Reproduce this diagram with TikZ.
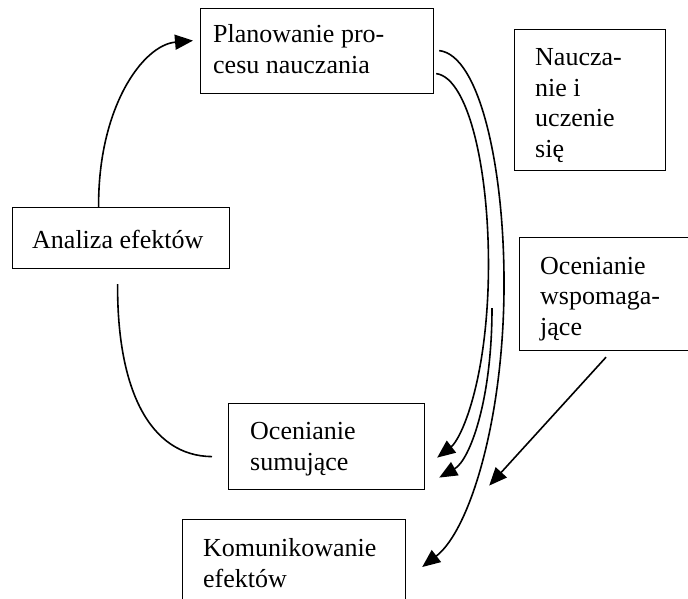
\documentclass[tikz,border=0pt]{standalone}
\usepackage{fontspec}
\setmainfont{Liberation Serif}
\usetikzlibrary{arrows.meta}
\begin{document}
\begin{tikzpicture}[x=1pt,y=-1pt,
  box/.style={draw, line width=1.2pt, anchor=north west, inner sep=0pt},
  txt/.style={anchor=base west, inner sep=0pt, align=left, font=\fontsize{26}{30.5}\selectfont},
  conn/.style={line width=1.6pt},
  arr/.style={conn, -{Triangle[length=18pt,width=15pt]}}]
\useasboundingbox (0,0) rectangle (688,598);
\clip (0,0) rectangle (688,598);
\fill[white] (0,0) rectangle (688,598);
% boxes
\node[box, minimum width=233pt, minimum height=85pt] (plan) at (200,8) {};
\node[box, minimum width=151pt, minimum height=141pt] (nauk) at (514,29) {};
\node[box, minimum width=217pt, minimum height=61pt] (anal) at (12,207) {};
\node[box, minimum width=200pt, minimum height=113pt] (wsp) at (519,237) {};
\node[box, minimum width=196pt, minimum height=86pt] (sum) at (228,403) {};
\node[box, minimum width=223pt, minimum height=100pt] (kom) at (182,519) {};
% texts (anchored at the baseline of the last line)
\node[txt] (plant) at ([shift={(13,65)}]plan.north west) {Planowanie pro-\\cesu nauczania};
\node[txt] (naukt) at ([shift={(21,128)}]nauk.north west) {Naucza-\\nie i\\uczenie\\się};
\node[txt] (analt) at ([shift={(20,41)}]anal.north west) {Analiza efektów};
\node[txt] (wspt) at ([shift={(21,98)}]wsp.north west) {Ocenianie\\wspomaga-\\jące};
\node[txt] (sumt) at ([shift={(22,67)}]sum.north west) {Ocenianie\\sumujące};
\node[txt] (komt) at ([shift={(21,68)}]kom.north west) {Komunikowanie\\efektów};
% connectors
\draw[arr] ([shift={(-22.5,0)}]anal.north) .. controls (98,107) and (143,45) .. ([shift={(-7,-10.5)}]plan.west);
\draw[conn] ([shift={(-3.5,15)}]anal.south) .. controls (117,390) and (150,456) .. ([shift={(-16,10)}]sum.west);
\draw[arr] ([shift={(2,22.5)}]plan.east) .. controls (470,78) and (492,180) .. (488,290) .. controls (484,390) and (460,440) .. ([shift={(12,11)}]sum.east);
\draw[arr] ([shift={(5,-0.5)}]plan.east) .. controls (480,55) and (505,170) .. (504,290) .. controls (503,420) and (470,530) .. ([shift={(16,48)}]kom.north east);
\coordinate (s0) at (492,308);
\draw[arr] (s0) .. controls (492,400) and (470,460) .. ([shift={(14,31)}]sum.east);
\draw[arr] ([shift={(87,6)}]wsp.south west) -- ([shift={(64,39)}]sum.east);
\end{tikzpicture}
\end{document}
